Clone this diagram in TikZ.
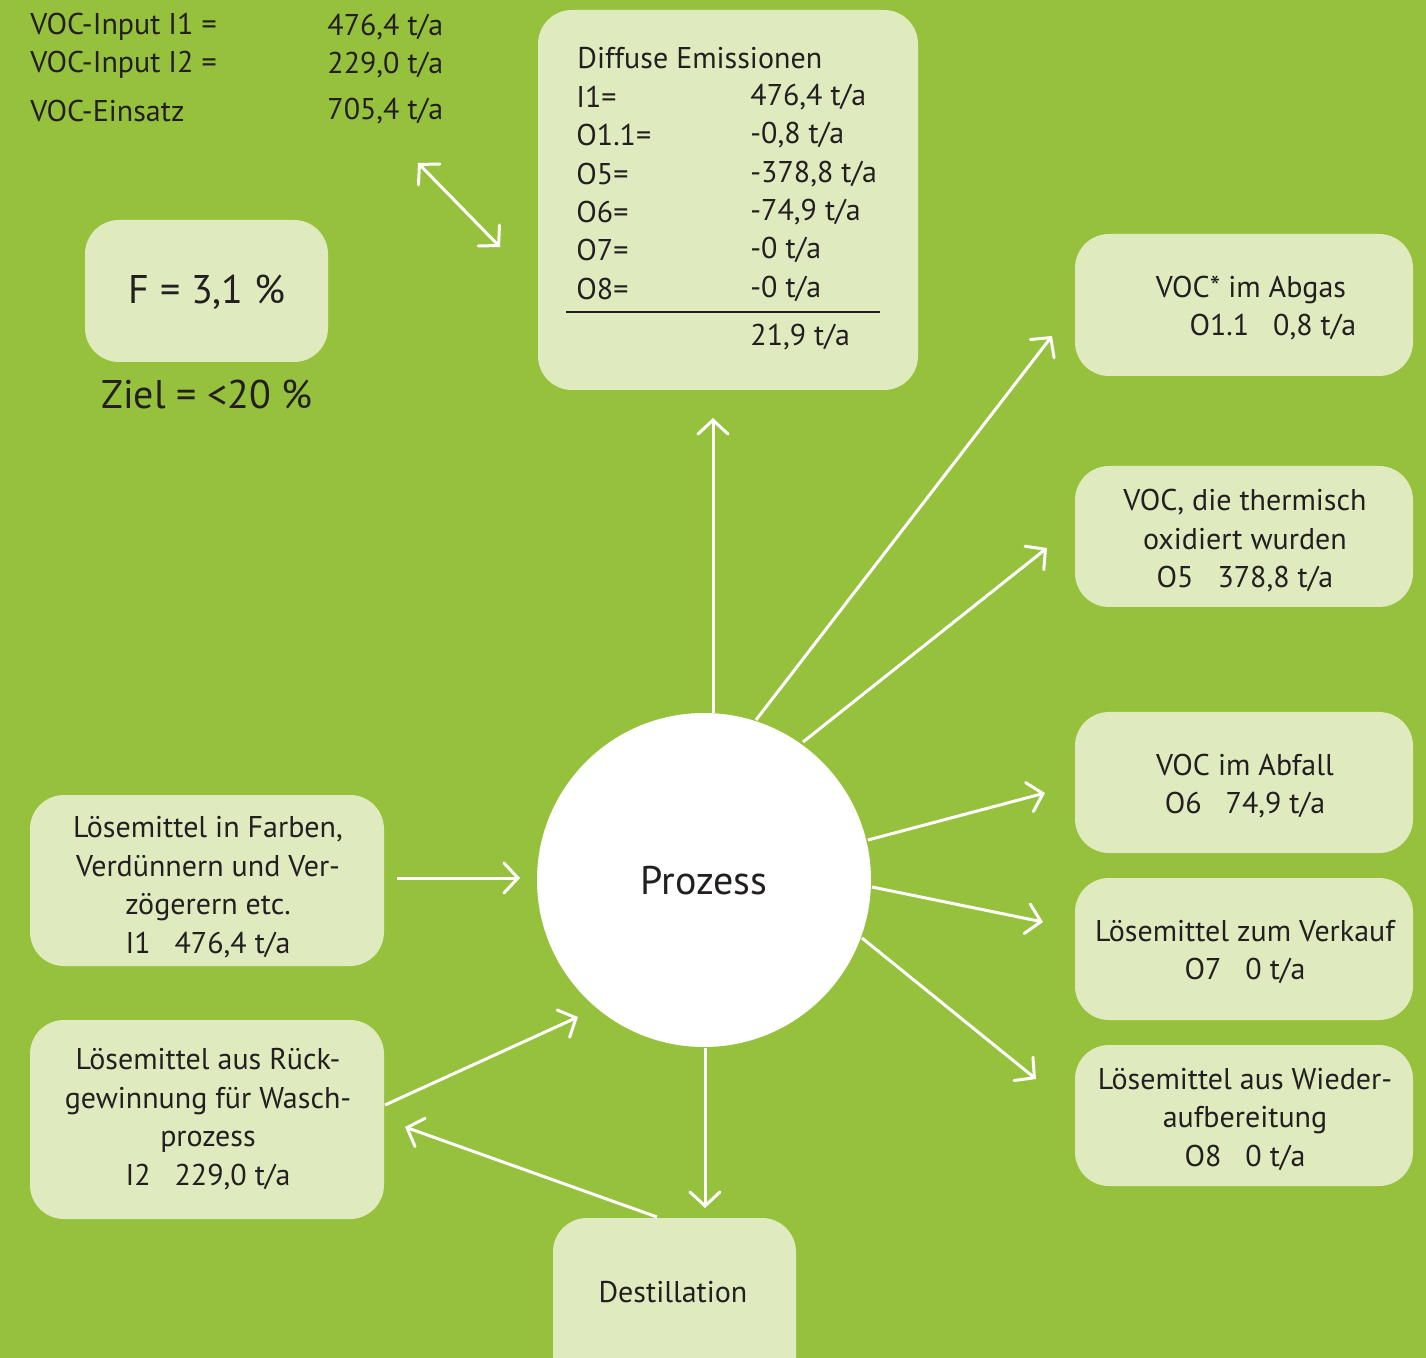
\documentclass[tikz,border=0pt]{standalone}
\usepackage{fontspec}
\setmainfont{PT Sans}
\usetikzlibrary{arrows.meta}
\definecolor{bggreen}{HTML}{96C13D}
\definecolor{boxfill}{HTML}{DFEBBE}
\definecolor{ink}{HTML}{231F20}
\tikzset{
  tip/.tip={Straight Barb[length=7pt,width=15pt,line cap=round]},
  boxstyle/.style={fill=boxfill, draw=none, rounded corners=17pt},
  flow/.style={draw=white, line width=1.5pt, -tip},
  txt/.style={text=ink, font=\fontsize{15}{19.25}\selectfont, inner sep=0pt},
  big/.style={text=ink, font=\fontsize{20}{24}\selectfont, inner sep=0pt},
}
\begin{document}
\begin{tikzpicture}[x=0.5pt,y=-0.5pt]
\useasboundingbox (0,0) rectangle (1426,1358);
\fill[bggreen] (0,0) rectangle (1426,1358);
\clip (0,0) rectangle (1426,1358);

% boxes
\fill[boxstyle] (538,10) rectangle (918,390);
\fill[boxstyle] (85,220) rectangle (328,362);
\fill[boxstyle] (1075,234) rectangle (1413,376);
\fill[boxstyle] (1075,466) rectangle (1413,607);
\fill[boxstyle] (1075,712) rectangle (1413,853);
\fill[boxstyle] (1075,878) rectangle (1413,1020);
\fill[boxstyle] (1075,1045) rectangle (1413,1186);
\fill[boxstyle] (30,795) rectangle (384,966);
\fill[boxstyle] (30,1020) rectangle (384,1219);
\fill[boxstyle] (553,1218) rectangle (796,1400);

\node[circle, fill=white, minimum size=167pt, inner sep=0pt] (proc) at (704,880) {};
\node[txt, font=\fontsize{20}{24}\selectfont] (proclabel) at (704,881) {Prozess};

% top-left text
\node[txt, anchor=west] (in1) at (30,27) {VOC-Input I1 =};
\node[txt, anchor=west] (in1v) at (327,27) {476,4 t/a};
\node[txt, anchor=west] (in2) at (30,65) {VOC-Input I2 =};
\node[txt, anchor=west] (in2v) at (327,65) {229,0 t/a};
\node[txt, anchor=west] (eins) at (30,111) {VOC-Einsatz};
\node[txt, anchor=west] (einsv) at (327,111) {705,4 t/a};

% diffuse
\node[txt, anchor=west] (dtitle) at (577,58) {Diffuse Emissionen};
\node[txt, anchor=west] (l1) at (576,97) {I1=};
\node[txt, anchor=west] (l2) at (576,135) {O1.1=};
\node[txt, anchor=west] (l3) at (576,174) {O5=};
\node[txt, anchor=west] (l4) at (576,212) {O6=};
\node[txt, anchor=west] (l5) at (576,250) {O7=};
\node[txt, anchor=west] (l6) at (576,289) {O8=};
\node[txt, anchor=west] (v1) at (750,97) {476,4 t/a};
\node[txt, anchor=west] (v2) at (750,135) {-0,8 t/a};
\node[txt, anchor=west] (v3) at (750,174) {-378,8 t/a};
\node[txt, anchor=west] (v4) at (750,212) {-74,9 t/a};
\node[txt, anchor=west] (v5) at (750,250) {-0 t/a};
\node[txt, anchor=west] (v6) at (750,289) {-0 t/a};
\coordinate (sumL) at (566,312);
\coordinate (sumR) at (880,312);
\draw[ink, line width=1.3pt] (sumL) -- (sumR);
\node[txt, anchor=west] (vsum) at (750,337) {21,9 t/a};

% F
\node[big] (F) at (207,292) {F = 3,1 \%};
\node[big] (ziel) at (207,394) {Ziel = <20 \%};

% right boxes
\node[txt, align=center] (abgas) at (1251,308) {VOC* im Abgas\\\hspace*{22pt}O1.1\hspace{12pt}0,8 t/a};
\node[txt, align=center] (therm) at (1245,541) {VOC, die thermisch\\oxidiert wurden\\O5\hspace{12pt}378,8 t/a};
\node[txt, align=center] (abfall) at (1245,786) {VOC im Abfall\\O6\hspace{12pt}74,9 t/a};
\node[txt, align=center] (verk) at (1245,952) {Lösemittel zum Verkauf\\O7\hspace{12pt}0 t/a};
\node[txt, align=center] (wied) at (1245,1119) {Lösemittel aus Wieder-\\aufbereitung\\O8\hspace{12pt}0 t/a};

% left boxes
\node[txt, align=center] (farb) at (208,887) {Lösemittel in Farben,\\Verdünnern und Ver-\\zögerern etc.\\I1\hspace{12pt}476,4 t/a};
\node[txt, align=center] (rueck) at (208,1119) {Lösemittel aus Rück-\\gewinnung für Wasch-\\prozess\\I2\hspace{12pt}229,0 t/a};
\node[txt] (dest) at (673,1292) {Destillation};

% connector coordinates
\coordinate (dA) at (418,163);
\coordinate (dB) at (500,247);
\coordinate (upS) at (713,713);
\coordinate (upE) at (713,418);
\coordinate (aS) at (756,720);
\coordinate (aE) at (1052,336);
\coordinate (tS) at (803,742);
\coordinate (tE) at (1047,548);
\coordinate (fS) at (868,840);
\coordinate (fE) at (1045,793);
\coordinate (vS) at (872,887);
\coordinate (vE) at (1043,922);
\coordinate (wS) at (862,938);
\coordinate (wE) at (1036,1079);
\coordinate (lS) at (397,878);
\coordinate (lE) at (520,878);
\coordinate (rS) at (385,1105);
\coordinate (rE) at (578,1017);
\coordinate (dsS) at (657,1217);
\coordinate (dsE) at (405,1127);
\coordinate (dnS) at (705,1048);
\coordinate (dnE) at (705,1208);

\draw[flow, tip-tip] (dA) -- (dB);
\draw[flow] (upS) -- (upE);
\draw[flow] (aS) -- (aE);
\draw[flow] (tS) -- (tE);
\draw[flow] (fS) -- (fE);
\draw[flow] (vS) -- (vE);
\draw[flow] (wS) -- (wE);
\draw[flow] (lS) -- (lE);
\draw[flow] (rS) -- (rE);
\draw[flow] (dsS) -- (dsE);
\draw[flow] (dnS) -- (dnE);
\end{tikzpicture}
\end{document}
